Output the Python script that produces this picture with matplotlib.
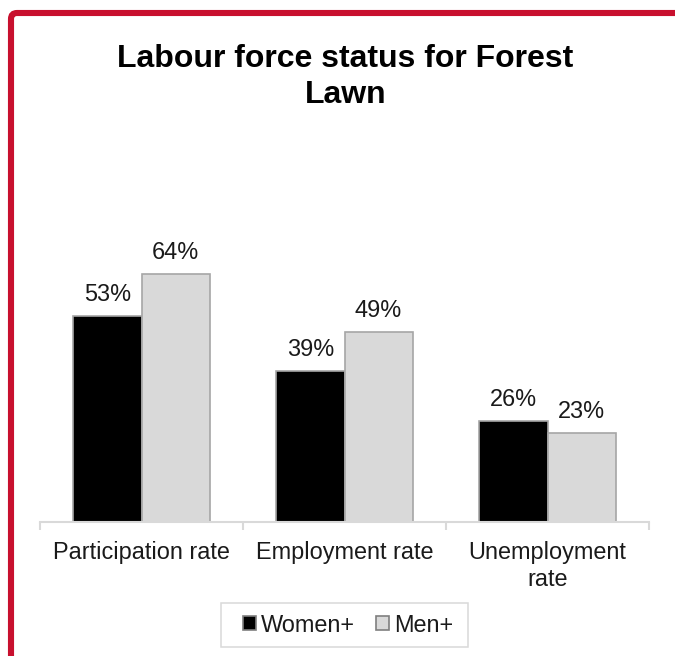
import matplotlib.pyplot as plt
import numpy as np
from matplotlib.patches import FancyBboxPatch, Rectangle
from matplotlib.transforms import IdentityTransform

plt.rcParams['font.family'] = ['Liberation Sans', 'DejaVu Sans']

# data
categories = ['Participation rate', 'Employment rate', 'Unemployment\nrate']
women = [53, 39, 26]
men = [64, 49, 23]
series_names = ['Women+', 'Men+']

W, H = 675, 656
fig = plt.figure(figsize=(W / 100, H / 100), dpi=100)

# axes placed in pixel terms: baseline at y=522, x from 40 to 649
px_per_pct = 3.88
ymax = 80
ax = fig.add_axes([40 / W, (H - 522) / H, 609 / W, px_per_pct * ymax / H])

x = np.arange(len(categories))
bw = 0.335
b1 = ax.bar(x - bw / 2, women, bw, color='black', edgecolor='#A6A6A6', linewidth=1.2, label=series_names[0])
b2 = ax.bar(x + bw / 2, men, bw, color='#D9D9D9', edgecolor='#A6A6A6', linewidth=1.2, label=series_names[1])

for bars in (b1, b2):
    for r in bars:
        ax.annotate(f'{r.get_height():.0f}%', (r.get_x() + r.get_width() / 2, r.get_height()),
                    xytext=(0, 10), textcoords='offset pixels', ha='center', va='bottom',
                    fontsize=16.9, color='#1a1a1a')

ax.set_xlim(-0.5, len(categories) - 0.5)
ax.set_ylim(0, ymax)
for s in ['top', 'right', 'left']:
    ax.spines[s].set_visible(False)
ax.spines['bottom'].set_color('#D9D9D9')
ax.spines['bottom'].set_linewidth(1.5)
ax.set_yticks([])

# group separators as major ticks, category names as minor tick labels
ax.set_xticks(np.arange(len(categories) + 1) - 0.5)
ax.set_xticklabels([])
ax.tick_params(axis='x', which='major', length=5.5, width=1.5, color='#D9D9D9', direction='out')
ax.set_xticks(x, minor=True)
ax.set_xticklabels(categories, minor=True, fontsize=16.9, color='#1a1a1a', linespacing=1.25)
ax.tick_params(axis='x', which='minor', length=0, pad=13.5)

fig.text(345.5 / W, 1 - 44 / H, 'Labour force status for Forest\nLawn', ha='center', va='top',
         fontsize=23, fontweight='bold', linespacing=1.28)

leg = fig.legend(loc='center', bbox_to_anchor=(348.5 / W, 1 - 625 / H), ncol=2, fontsize=16.9,
                 frameon=False, handlelength=0.55, handleheight=0.55, handletextpad=0.22,
                 columnspacing=0.9, borderpad=0, borderaxespad=0)
for t in leg.get_texts():
    t.set_color('#1a1a1a')
for h in leg.legend_handles:
    h.set_edgecolor('#7f7f7f')

# legend box (Excel pads it unevenly, so draw it separately)
fig.patches.append(Rectangle((221, H - 647), 247, 44, transform=IdentityTransform(),
                             fill=False, edgecolor='#D9D9D9', linewidth=1.1))

# red frame along the left and top edges
frame = FancyBboxPatch((11, -60), 720, H - 13 + 60, boxstyle='round,pad=0,rounding_size=6',
                       transform=IdentityTransform(), fill=False, edgecolor='#C8102E', linewidth=4.4)
fig.patches.append(frame)

fig.savefig('out.png', dpi=100)
